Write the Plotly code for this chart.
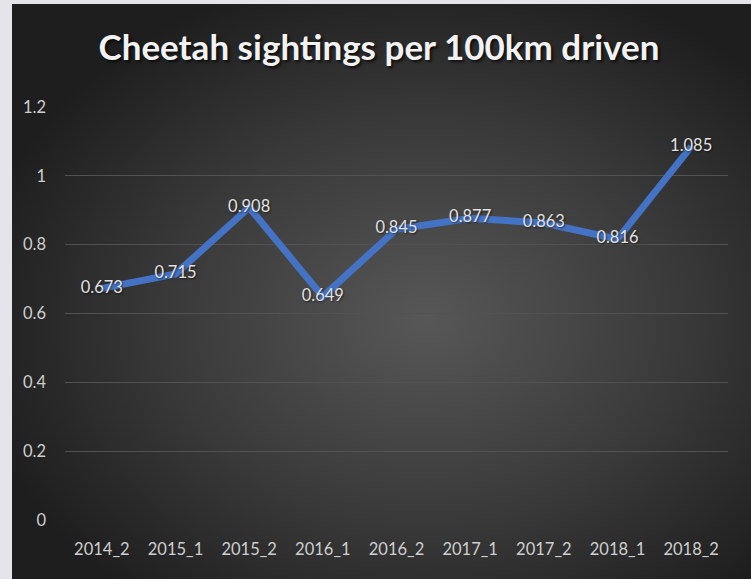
import base64
import plotly.graph_objects as go

periods = ["2014_2", "2015_1", "2015_2", "2016_1", "2016_2", "2017_1", "2017_2", "2018_1", "2018_2"]
sightings = [0.673, 0.715, 0.908, 0.649, 0.845, 0.877, 0.863, 0.816, 1.085]
y_ticks = [0, 0.2, 0.4, 0.6, 0.8, 1, 1.2]
y_tick_text = ["0", "0.2", "0.4", "0.6", "0.8", "1", "1.2"]

W, H = 751, 579
ML, MR, MT, MB = 65, 23, 107, 59
pw, ph = W - ML - MR, H - MT - MB

# dark panel with radial gradient, drawn as an svg behind the plot
svg = (
    '<svg xmlns="http://www.w3.org/2000/svg" width="739" height="575" '
    'viewBox="0 0 739 575" preserveAspectRatio="none">'
    '<defs><radialGradient id="g" cx="0.56" cy="0.55" r="0.62">'
    '<stop offset="0" stop-color="#575757"/>'
    '<stop offset="0.55" stop-color="#3a3a3a"/>'
    '<stop offset="1" stop-color="#1e1e1e"/></radialGradient></defs>'
    '<rect width="739" height="575" fill="url(#g)"/></svg>'
)
svg_uri = "data:image/svg+xml;base64," + base64.b64encode(svg.encode()).decode()

fig = go.Figure()
fig.add_trace(
    go.Scatter(
        x=list(range(len(periods))),
        y=sightings,
        mode="lines+text",
        line=dict(color="#4472C4", width=7),
        text=[f"{v:.3f}" for v in sightings],
        textposition="middle center",
        textfont=dict(family="Lato, sans-serif", size=16.5, color="#e2e2e2",
                      shadow="1px 1px 2px rgba(0,0,0,0.6)"),
        cliponaxis=False,
        hoverinfo="skip",
    )
)

fig.add_layout_image(
    source=svg_uri,
    xref="paper", yref="paper",
    x=(12 - ML) / pw, y=(H - MB - 4) / ph,
    sizex=739 / pw, sizey=575 / ph,
    sizing="stretch", xanchor="left", yanchor="top",
    layer="below",
)

fig.update_layout(
    width=W, height=H,
    margin=dict(l=ML, r=MR, t=MT, b=MB),
    paper_bgcolor="#e4e4ea",
    plot_bgcolor="rgba(0,0,0,0)",
    showlegend=False,
    title=dict(
        text="<b>Cheetah sightings per 100km driven</b>",
        x=379 / W, xanchor="center",
        y=1 - 48 / H, yanchor="middle",
        font=dict(family="Lato, sans-serif", size=35, color="#f2f2f2",
                  shadow="2px 2px 3px rgba(0,0,0,0.7)"),
    ),
    xaxis=dict(
        range=[-0.5, len(periods) - 0.5],
        tickmode="array",
        tickvals=list(range(len(periods))),
        ticktext=periods,
        showgrid=False, zeroline=False, showline=False,
        ticks="", ticklabelstandoff=17,
        tickfont=dict(family="Lato, sans-serif", size=16.5, color="#cfcfcf"),
        fixedrange=True,
    ),
    yaxis=dict(
        range=[0, 1.2],
        tickmode="array",
        tickvals=y_ticks,
        ticktext=y_tick_text,
        showgrid=True, gridcolor="#525252", gridwidth=1,
        zeroline=False, showline=False,
        ticks="", ticklabelstandoff=18,
        tickfont=dict(family="Lato, sans-serif", size=16.5, color="#cfcfcf"),
        fixedrange=True,
    ),
)

# drop the browser's default page margin so the figure sits at the window corner
fig.write_html(
    "out.html",
    config={"displayModeBar": False},
    post_script="document.body.style.margin='0';document.body.style.background='#e4e4ea';",
)
